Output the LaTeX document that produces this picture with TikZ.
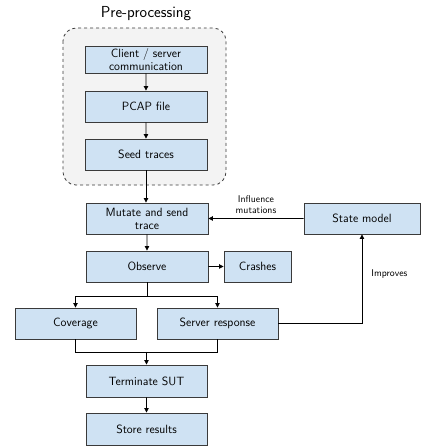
\documentclass[tikz,border=0pt]{standalone}
\renewcommand\familydefault{\sfdefault}
\usetikzlibrary{arrows.meta}
\definecolor{boxfill}{RGB}{207,226,243}
\definecolor{boxline}{RGB}{58,58,58}
\definecolor{groupfill}{RGB}{243,243,243}
\begin{document}
\begin{tikzpicture}[scale=0.035278,
  stepbox/.style={draw=boxline,fill=boxfill,line width=0.9pt,align=center,inner sep=0pt,
    font=\fontsize{12}{13}\selectfont},
  conn/.style={draw=black,line width=0.8pt},
  arr/.style={conn,-{Triangle[length=4.5pt,width=4.5pt]}},
  lbl/.style={font=\fontsize{9.8}{11.5}\selectfont,align=center,inner sep=0pt}]
\useasboundingbox (0,0) rectangle (421,-447);
% group
\draw[draw=boxline,fill=groupfill,dashed,line width=0.8pt,rounded corners=13pt] (63,-28) rectangle (226,-185);
\node[font=\fontsize{16}{18}\selectfont,inner sep=0pt] (title) at (146,-14) {Pre-processing};
% nodes
\node[stepbox,minimum width=122bp,minimum height=27bp] (cs) at (146,-59.5) {Client / server\\communication};
\node[stepbox,minimum width=122bp,minimum height=31bp] (pcap) at (146,-106.5) {PCAP file};
\node[stepbox,minimum width=122bp,minimum height=31bp] (seed) at (146,-154.5) {Seed traces};
\node[stepbox,minimum width=122bp,minimum height=31bp] (mut) at (147,-218.5) {Mutate and send\\trace};
\node[stepbox,minimum width=116bp,minimum height=31bp] (state) at (362,-218.5) {State model};
\node[stepbox,minimum width=122bp,minimum height=31bp] (obs) at (147,-266.5) {Observe};
\node[stepbox,minimum width=67bp,minimum height=31bp] (crash) at (257.5,-266.5) {Crashes};
\node[stepbox,minimum width=121bp,minimum height=31bp] (cov) at (75.5,-323.5) {Coverage};
\node[stepbox,minimum width=121bp,minimum height=31bp] (srv) at (217.5,-323.5) {Server response};
\node[stepbox,minimum width=121bp,minimum height=32bp] (term) at (146.5,-381) {Terminate SUT};
\node[stepbox,minimum width=121bp,minimum height=32bp] (store) at (146.5,-429) {Store results};
% connectors
\draw[arr] (cs) -- (pcap);
\draw[arr] (pcap) -- (seed);
\draw[arr] (seed.south) -- (seed.south |- mut.north);
\draw[arr] (mut) -- (obs);
\draw[arr] (obs) -- (crash);
\draw[arr] (state) -- node[lbl,above=4pt] {Influence\\mutations} (mut);
\coordinate (split) at (147,-296);
\draw[conn] (obs.south) -- (split);
\draw[arr] (split) -| (cov.north);
\draw[arr] (split) -| (srv.north);
\coordinate (merge) at (146.5,-352);
\draw[conn] (cov.south) |- (merge);
\draw[conn] (srv.south) |- (merge);
\draw[arr] (merge) -- (term.north);
\draw[arr] (term) -- (store);
\draw[arr] (srv.east) -| node[lbl,pos=0.78,right=9pt] {Improves} (state.south);
\end{tikzpicture}
\end{document}
